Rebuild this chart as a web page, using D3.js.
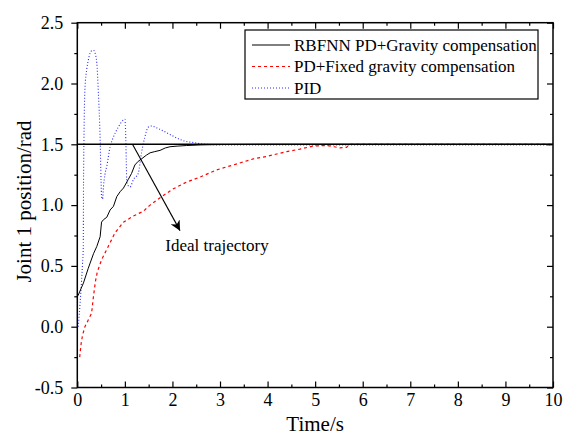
<!DOCTYPE html>
<html>
<head>
<meta charset="utf-8">
<script src="https://cdn.jsdelivr.net/npm/d3@7"></script>
<style>
  html, body { margin: 0; padding: 0; background: #fff; }
  svg { display: block; }
  svg text { font-family: "Liberation Serif", "Times New Roman", serif; }
</style>
</head>
<body>
<svg id="chart" width="565" height="436"></svg>
<script>
// Joint 1 position response for three controllers
const xTicks = [0, 1, 2, 3, 4, 5, 6, 7, 8, 9, 10];
const yTicks = [-0.5, 0.0, 0.5, 1.0, 1.5, 2.0, 2.5];

const idealTime = [0, 10];
const idealPos = [1.5, 1.5];

const rbfTime = [0, 0.02, 0.13, 0.23, 0.34, 0.41, 0.48, 0.51, 0.55, 0.62, 0.69, 0.76, 0.83, 0.9, 0.97, 1.07, 1.14, 1.21, 1.28, 1.35, 1.45, 1.53, 1.63, 1.74, 1.85, 1.95, 2.1, 2.3, 2.6, 3.0, 4.0, 6, 8, 10];
const rbfPos = [0.25, 0.26, 0.36, 0.48, 0.60, 0.66, 0.74, 0.86, 0.88, 0.90, 0.96, 0.99, 1.07, 1.11, 1.14, 1.21, 1.26, 1.33, 1.36, 1.38, 1.41, 1.43, 1.44, 1.45, 1.47, 1.48, 1.485, 1.49, 1.495, 1.498, 1.5, 1.5, 1.5, 1.5];

const fixedTime = [0.05, 0.08, 0.11, 0.16, 0.23, 0.3, 0.34, 0.38, 0.42, 0.51, 0.65, 0.79, 0.97, 1.18, 1.39, 1.53, 1.74, 2.0, 2.3, 2.58, 2.93, 3.28, 3.7, 3.98, 4.4, 4.68, 4.96, 5.24, 5.4, 5.52, 5.66, 5.72, 6, 8, 10];
const fixedPos = [-0.25, -0.14, -0.07, 0.0, 0.055, 0.11, 0.25, 0.37, 0.45, 0.55, 0.66, 0.77, 0.86, 0.91, 0.95, 1.0, 1.06, 1.13, 1.19, 1.23, 1.29, 1.33, 1.38, 1.40, 1.44, 1.46, 1.486, 1.49, 1.48, 1.47, 1.475, 1.5, 1.5, 1.5, 1.5];

const pidTime = [0.02, 0.06, 0.09, 0.11, 0.126, 0.13, 0.14, 0.16, 0.2, 0.23, 0.27, 0.31, 0.35, 0.38, 0.41, 0.44, 0.48, 0.5, 0.51, 0.53, 0.55, 0.58, 0.62, 0.69, 0.76, 0.86, 0.97, 1.0, 1.02, 1.03, 1.04, 1.07, 1.11, 1.18, 1.28, 1.35, 1.42, 1.49, 1.56, 1.7, 1.95, 2.16, 2.33, 2.44, 2.58, 2.72, 3.0, 4, 6, 8, 10];
const pidPos = [0.0, 0.2, 0.38, 0.52, 0.66, 1.1, 1.54, 1.95, 2.12, 2.19, 2.25, 2.27, 2.27, 2.24, 2.17, 1.95, 1.54, 1.2, 1.07, 1.05, 1.15, 1.25, 1.32, 1.48, 1.56, 1.64, 1.70, 1.705, 1.54, 1.35, 1.2, 1.16, 1.15, 1.21, 1.26, 1.43, 1.56, 1.64, 1.65, 1.63, 1.58, 1.54, 1.52, 1.515, 1.505, 1.5, 1.495, 1.495, 1.495, 1.495, 1.495];

const seriesNames = ["RBFNN PD+Gravity compensation", "PD+Fixed gravity compensation", "PID"];

const FONT = '"Liberation Serif", "Times New Roman", serif';
const svg = d3.select("#chart");
const m = { left: 77.3, right: 12, top: 22.7, bottom: 48.5 };
const W = 565, H = 436;

const x = d3.scaleLinear().domain([0, 10]).range([m.left, W - m.right]);
const y = d3.scaleLinear().domain([-0.5, 2.5]).range([H - m.bottom, m.top]);

const fmtY = v => (v < 0 ? "-" : "") + Math.abs(v).toFixed(1);
const xMinor = d3.range(0.5, 10, 1);
const yMinor = d3.range(-0.25, 2.5, 0.5);

// Axes: bottom/top/right ticks point inward, left ticks point outward
function styleAxis(g) {
  g.attr("font-family", FONT).attr("font-size", 18);
  g.select(".domain").remove();
  g.selectAll("line").attr("stroke", "#000").attr("stroke-width", 1.2);
  g.selectAll("text").attr("fill", "#000");
}

svg.append("g").attr("transform", `translate(0,${y(-0.5)})`)
  .call(d3.axisBottom(x).tickValues(xTicks).tickFormat(d3.format("d")).tickSize(-6).tickPadding(6))
  .call(styleAxis);
svg.append("g").attr("transform", `translate(0,${y(-0.5)})`)
  .call(d3.axisBottom(x).tickValues(xMinor).tickFormat("").tickSize(-3))
  .call(styleAxis);
svg.append("g").attr("transform", `translate(0,${y(2.5)})`)
  .call(d3.axisTop(x).tickValues(xTicks).tickFormat("").tickSize(-6))
  .call(styleAxis);
svg.append("g").attr("transform", `translate(0,${y(2.5)})`)
  .call(d3.axisTop(x).tickValues(xMinor).tickFormat("").tickSize(-3))
  .call(styleAxis);

svg.append("g").attr("transform", `translate(${x(0)},0)`)
  .call(d3.axisLeft(y).tickValues(yTicks).tickFormat(fmtY).tickSize(6).tickPadding(8))
  .call(styleAxis);
svg.append("g").attr("transform", `translate(${x(0)},0)`)
  .call(d3.axisLeft(y).tickValues(yMinor).tickFormat("").tickSize(3))
  .call(styleAxis);
svg.append("g").attr("transform", `translate(${x(10)},0)`)
  .call(d3.axisRight(y).tickValues(yTicks).tickFormat("").tickSize(-6))
  .call(styleAxis);
svg.append("g").attr("transform", `translate(${x(10)},0)`)
  .call(d3.axisRight(y).tickValues(yMinor).tickFormat("").tickSize(-3))
  .call(styleAxis);

// Plot frame
svg.append("rect")
  .attr("x", x(0)).attr("y", y(2.5))
  .attr("width", x(10) - x(0)).attr("height", y(-0.5) - y(2.5))
  .attr("fill", "none").attr("stroke", "#000").attr("stroke-width", 1.5);

const zip = (ts, vs) => ts.map((t, i) => [t, vs[i]]);
const lineLin = d3.line().x(d => x(d[0])).y(d => y(d[1]));
const lineSmooth = d3.line().x(d => x(d[0])).y(d => y(d[1])).curve(d3.curveMonotoneX);

const plot = svg.append("g");

plot.append("path").datum(zip(pidTime, pidPos))
  .attr("d", lineSmooth).attr("fill", "none")
  .attr("stroke", "#2a2aff").attr("stroke-width", 1.1).attr("stroke-dasharray", "1,2");

plot.append("path").datum(zip(fixedTime, fixedPos))
  .attr("d", lineLin).attr("fill", "none")
  .attr("stroke", "#ff0000").attr("stroke-width", 1.2).attr("stroke-dasharray", "3,3");

plot.append("path").datum(zip(rbfTime, rbfPos))
  .attr("d", lineLin).attr("fill", "none")
  .attr("stroke", "#000").attr("stroke-width", 1);

plot.append("path").datum(zip(idealTime, idealPos))
  .attr("d", lineLin).attr("fill", "none")
  .attr("stroke", "#000").attr("stroke-width", 1.6);

// Annotation arrow for the reference trajectory
const arrowFrom = [1.16, 1.5], arrowTo = [2.16, 0.79];
svg.append("defs").append("marker")
  .attr("id", "arrowhead").attr("viewBox", "0 0 10 10")
  .attr("refX", 10).attr("refY", 5)
  .attr("markerWidth", 10).attr("markerHeight", 10)
  .attr("markerUnits", "userSpaceOnUse")
  .attr("orient", "auto")
  .append("path").attr("d", "M0,0 L10,5 L0,10 L3,5 Z").attr("fill", "#000");
svg.append("line")
  .attr("x1", x(arrowFrom[0])).attr("y1", y(arrowFrom[1]))
  .attr("x2", x(arrowTo[0])).attr("y2", y(arrowTo[1]))
  .attr("stroke", "#000").attr("stroke-width", 1.1)
  .attr("marker-end", "url(#arrowhead)");
svg.append("text")
  .attr("x", x(1.85)).attr("y", y(0.62))
  .attr("font-size", 17).attr("fill", "#000")
  .text("Ideal trajectory");

// Legend
const lg = svg.append("g");
lg.append("rect").attr("x", 245).attr("y", 30).attr("width", 293).attr("height", 69)
  .attr("fill", "#fff").attr("stroke", "#000").attr("stroke-width", 1.2);
const legendStyles = [
  { stroke: "#000", dash: null, w: 1 },
  { stroke: "#ff0000", dash: "3,3", w: 1.2 },
  { stroke: "#2a2aff", dash: "1,2", w: 1.1 }
];
seriesNames.forEach((name, i) => {
  const cy = 45 + i * 21.5;
  const s = legendStyles[i];
  lg.append("line").attr("x1", 252).attr("x2", 290).attr("y1", cy).attr("y2", cy)
    .attr("stroke", s.stroke).attr("stroke-width", s.w)
    .attr("stroke-dasharray", s.dash);
  lg.append("text").attr("x", 294).attr("y", cy + 5.5)
    .attr("font-size", 17).attr("fill", "#000").text(name);
});

// Axis titles
svg.append("text")
  .attr("x", (x(0) + x(10)) / 2).attr("y", 431)
  .attr("text-anchor", "middle").attr("font-size", 21).attr("fill", "#000")
  .text("Time/s");
svg.append("text")
  .attr("transform", `translate(31,${(113 + 290) / 2}) rotate(-90)`)
  .attr("text-anchor", "middle").attr("font-size", 21).attr("fill", "#000")
  .text("Joint 1 position/rad");
</script>
</body>
</html>
